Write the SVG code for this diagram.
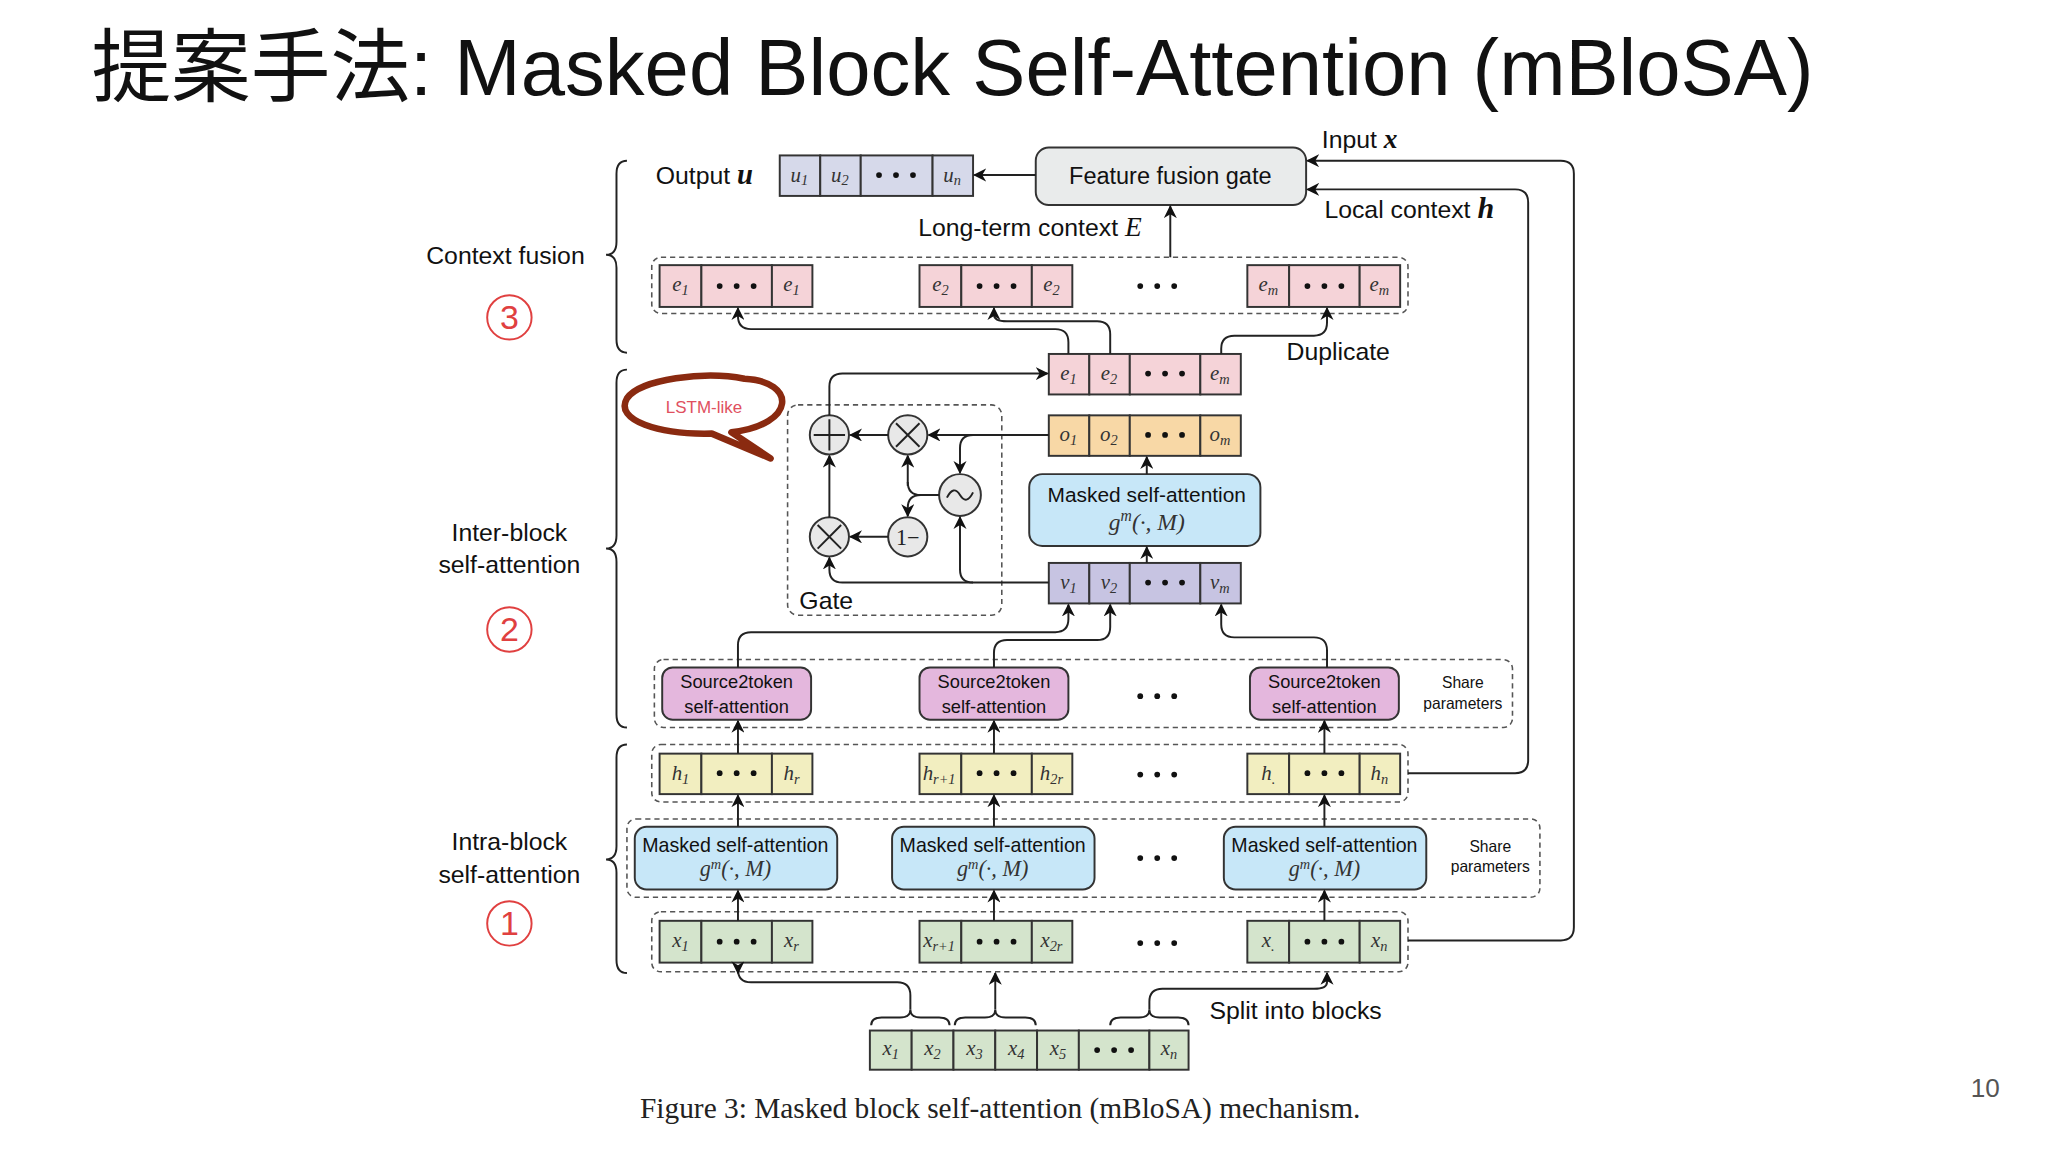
<svg xmlns="http://www.w3.org/2000/svg" width="2048" height="1152" viewBox="0 0 2048 1152">
<style>
.sans{font-family:"Liberation Sans",Arial,sans-serif;fill:#111}
.m{font-family:"Liberation Serif","Times New Roman",serif;font-style:italic;font-size:16px;fill:#333;text-anchor:middle}
.s{font-size:11px}
.cell{stroke:#333;stroke-width:1.5}
.e{fill:#f5d3d8}.u{fill:#d6d9ea}.o{fill:#f8d8a6}.v{fill:#c7c4e2}.h{fill:#f2eec0}.x{fill:#d4e4cc}
.dash{fill:none;stroke:#555;stroke-width:1.2;stroke-dasharray:4 3}
.ln{fill:none;stroke:#222;stroke-width:1.5}
.arr{fill:none;stroke:#222;stroke-width:1.5;marker-end:url(#ah)}
.msa{fill:#c7e7f8;stroke:#333;stroke-width:1.5}
.s2t{fill:#e4b7dd;stroke:#333;stroke-width:1.5}
.op{fill:#e8e8e8;stroke:#333;stroke-width:1.5}
.red{fill:none;stroke:#e04040;stroke-width:1.5}
.rt{font-family:"Liberation Sans",Arial,sans-serif;fill:#e04040;font-size:26px;text-anchor:middle}
</style>
<defs>
<marker id="ah" viewBox="0 0 10 10" refX="9" refY="5" markerWidth="10" markerHeight="10" markerUnits="userSpaceOnUse" orient="auto">
<path d="M0,0 L10,5 L0,10 L3,5 z" fill="#111"/>
</marker>
<g id="dots"><circle cx="-13" cy="0" r="2.2" fill="#111"/><circle cx="0" cy="0" r="2.2" fill="#111"/><circle cx="13" cy="0" r="2.2" fill="#111"/></g>
</defs>
<rect width="2048" height="1152" fill="#fff"/>
<g transform="scale(1.30612)">
<text class="sans" x="70" y="73" font-size="61" style="font-family:'Liberation Sans','Noto Sans CJK JP',sans-serif">提案手法: Masked Block Self-Attention (mBloSA)</text>
<text class="sans" x="1520" y="840" font-size="20" text-anchor="middle" fill="#555" style="fill:#555">10</text>
<text x="490" y="856" font-size="22.5" style="font-family:'Liberation Serif',serif;fill:#222">Figure 3: Masked block self-attention (mBloSA) mechanism.</text>

<g id="side-labels">
<path class="ln" d="M480,123 q-8,0 -8,10 v52 q0,10 -8,10 q8,0 8,10 v55 q0,10 8,10"/>
<path class="ln" d="M480,283 q-8,0 -8,10 v117 q0,10 -8,10 q8,0 8,10 v117 q0,10 8,10"/>
<path class="ln" d="M480,570 q-8,0 -8,10 v68 q0,10 -8,10 q8,0 8,10 v67 q0,10 8,10"/>
<text class="sans" x="387" y="202" font-size="19" text-anchor="middle">Context fusion</text>
<circle class="red" cx="390" cy="243" r="17"/><text class="rt" x="390" y="252">3</text>
<text class="sans" x="390" y="414" font-size="19" text-anchor="middle">Inter-block</text>
<text class="sans" x="390" y="439" font-size="19" text-anchor="middle">self-attention</text>
<circle class="red" cx="390" cy="482" r="17"/><text class="rt" x="390" y="491">2</text>
<text class="sans" x="390" y="651" font-size="19" text-anchor="middle">Intra-block</text>
<text class="sans" x="390" y="676" font-size="19" text-anchor="middle">self-attention</text>
<circle class="red" cx="390" cy="707" r="17"/><text class="rt" x="390" y="716">1</text>
</g>

<g id="output">
<text class="sans" x="502" y="141" font-size="19">Output <tspan style="font-family:'Liberation Serif',serif;font-style:italic;font-weight:bold" font-size="22">u</tspan></text>
<rect class="cell u" x="597" y="119" width="31" height="31"/><rect class="cell u" x="628" y="119" width="31" height="31"/><rect class="cell u" x="659" y="119" width="55" height="31"/><rect class="cell u" x="714" y="119" width="31" height="31"/>
<text class="m" x="612" y="139">u<tspan class="s" dy="3">1</tspan></text><text class="m" x="643" y="139">u<tspan class="s" dy="3">2</tspan></text><use href="#dots" x="686" y="134"/><text class="m" x="729" y="139">u<tspan class="s" dy="3">n</tspan></text>
</g>
<g id="fusion-gate">
<rect x="793" y="113" width="207" height="44" rx="10" fill="#e9ebeb" stroke="#333" stroke-width="1.5"/>
<text class="sans" x="896" y="141" font-size="18" text-anchor="middle">Feature fusion gate</text>
<text class="sans" x="1012" y="113" font-size="19">Input <tspan style="font-family:'Liberation Serif',serif;font-style:italic;font-weight:bold" font-size="21">x</tspan></text>
<text class="sans" x="1014" y="167" font-size="19">Local context <tspan style="font-family:'Liberation Serif',serif;font-style:italic;font-weight:bold" font-size="23">h</tspan></text>
<text class="sans" x="703" y="181" font-size="19">Long-term context <tspan style="font-family:'Liberation Serif',serif;font-style:italic" font-size="21">E</tspan></text>
</g>

<g id="e-groups">
<rect class="dash" x="499" y="197" width="579" height="43" rx="7"/>
<rect class="cell e" x="505" y="203" width="32" height="32"/><rect class="cell e" x="537" y="203" width="54" height="32"/><rect class="cell e" x="591" y="203" width="31" height="32"/>
<text class="m" x="521" y="223">e<tspan class="s" dy="3">1</tspan></text><use href="#dots" x="564" y="219"/><text class="m" x="606" y="223">e<tspan class="s" dy="3">1</tspan></text>
<rect class="cell e" x="704" y="203" width="32" height="32"/><rect class="cell e" x="736" y="203" width="54" height="32"/><rect class="cell e" x="790" y="203" width="31" height="32"/>
<text class="m" x="720" y="223">e<tspan class="s" dy="3">2</tspan></text><use href="#dots" x="763" y="219"/><text class="m" x="805" y="223">e<tspan class="s" dy="3">2</tspan></text>
<use href="#dots" x="886" y="219"/>
<rect class="cell e" x="955" y="203" width="32" height="32"/><rect class="cell e" x="987" y="203" width="54" height="32"/><rect class="cell e" x="1041" y="203" width="31" height="32"/>
<text class="m" x="971" y="223">e<tspan class="s" dy="3">m</tspan></text><use href="#dots" x="1014" y="219"/><text class="m" x="1056" y="223">e<tspan class="s" dy="3">m</tspan></text>
<text class="sans" x="985" y="276" font-size="19">Duplicate</text>
</g>

<g id="e-row">
<rect class="cell e" x="803" y="271" width="31" height="31"/><rect class="cell e" x="834" y="271" width="31" height="31"/><rect class="cell e" x="865" y="271" width="54" height="31"/><rect class="cell e" x="919" y="271" width="31" height="31"/>
<text class="m" x="818" y="291">e<tspan class="s" dy="3">1</tspan></text><text class="m" x="849" y="291">e<tspan class="s" dy="3">2</tspan></text><use href="#dots" x="892" y="286"/><text class="m" x="934" y="291">e<tspan class="s" dy="3">m</tspan></text>
</g>
<g id="o-row">
<rect class="cell o" x="803" y="318" width="31" height="31"/><rect class="cell o" x="834" y="318" width="31" height="31"/><rect class="cell o" x="865" y="318" width="54" height="31"/><rect class="cell o" x="919" y="318" width="31" height="31"/>
<text class="m" x="818" y="338">o<tspan class="s" dy="3">1</tspan></text><text class="m" x="849" y="338">o<tspan class="s" dy="3">2</tspan></text><use href="#dots" x="892" y="333"/><text class="m" x="934" y="338">o<tspan class="s" dy="3">m</tspan></text>
</g>
<g id="inter-msa">
<rect class="msa" x="788" y="363" width="177" height="55" rx="10"/>
<text class="sans" x="878" y="384" font-size="16" text-anchor="middle">Masked self-attention</text>
<text x="878" y="406" font-size="18" text-anchor="middle" style="font-family:'Liberation Serif',serif;font-style:italic;fill:#333">g<tspan font-size="12" dy="-7">m</tspan><tspan dy="7">(·, M)</tspan></text>
</g>
<g id="v-row">
<rect class="cell v" x="803" y="431" width="31" height="31"/><rect class="cell v" x="834" y="431" width="31" height="31"/><rect class="cell v" x="865" y="431" width="54" height="31"/><rect class="cell v" x="919" y="431" width="31" height="31"/>
<text class="m" x="818" y="451">v<tspan class="s" dy="3">1</tspan></text><text class="m" x="849" y="451">v<tspan class="s" dy="3">2</tspan></text><use href="#dots" x="892" y="446"/><text class="m" x="934" y="451">v<tspan class="s" dy="3">m</tspan></text>
</g>

<g id="gate">
<rect class="dash" x="603" y="310" width="164" height="161" rx="8"/>
<text class="sans" x="612" y="466" font-size="19">Gate</text>
<circle class="op" cx="635" cy="333" r="15"/><path class="ln" d="M635,321 v24 M623,333 h24"/>
<circle class="op" cx="695" cy="333" r="15"/><path class="ln" d="M686,324 l18,18 M704,324 l-18,18"/>
<circle class="op" cx="735" cy="379" r="16"/><path class="ln" d="M725,381 q5,-10 10,-2 t10,-2"/>
<circle class="op" cx="635" cy="411" r="15"/><path class="ln" d="M626,402 l18,18 M644,402 l-18,18"/>
<circle class="op" cx="695" cy="411" r="15"/><text x="695" y="417" font-size="17" text-anchor="middle" style="font-family:'Liberation Serif',serif;fill:#222">1−</text>
</g>
<g id="lstm-bubble">
<path d="M560,331 C610,325 610,292 570,290 C540,284 490,290 480,305 C470,322 505,333 545,332 L590,351 Z" fill="#fff" stroke="#8a2a10" stroke-width="5" stroke-linejoin="round"/>
<text x="539" y="316" font-size="13" text-anchor="middle" style="font-family:'Liberation Sans',sans-serif;fill:#e05060">LSTM-like</text>
</g>

<g id="s2t">
<rect class="dash" x="501" y="505" width="657" height="52" rx="7"/>
<rect class="s2t" x="507" y="511" width="114" height="40" rx="8"/><text class="sans" x="564" y="527" font-size="14" text-anchor="middle">Source2token</text><text class="sans" x="564" y="546" font-size="14" text-anchor="middle">self-attention</text>
<rect class="s2t" x="704" y="511" width="114" height="40" rx="8"/><text class="sans" x="761" y="527" font-size="14" text-anchor="middle">Source2token</text><text class="sans" x="761" y="546" font-size="14" text-anchor="middle">self-attention</text>
<use href="#dots" x="886" y="533"/>
<rect class="s2t" x="957" y="511" width="114" height="40" rx="8"/><text class="sans" x="1014" y="527" font-size="14" text-anchor="middle">Source2token</text><text class="sans" x="1014" y="546" font-size="14" text-anchor="middle">self-attention</text>
<text class="sans" x="1120" y="527" font-size="12" text-anchor="middle">Share</text><text class="sans" x="1120" y="543" font-size="12" text-anchor="middle">parameters</text>
</g>

<g id="h-groups">
<rect class="dash" x="499" y="570" width="579" height="44" rx="7"/>
<rect class="cell h" x="505" y="577" width="32" height="31"/><rect class="cell h" x="537" y="577" width="54" height="31"/><rect class="cell h" x="591" y="577" width="31" height="31"/>
<text class="m" x="521" y="597">h<tspan class="s" dy="3">1</tspan></text><use href="#dots" x="564" y="592"/><text class="m" x="606" y="597">h<tspan class="s" dy="3">r</tspan></text>
<rect class="cell h" x="704" y="577" width="32" height="31"/><rect class="cell h" x="736" y="577" width="54" height="31"/><rect class="cell h" x="790" y="577" width="31" height="31"/>
<text class="m" x="719" y="597">h<tspan class="s" dy="3">r+1</tspan></text><use href="#dots" x="763" y="592"/><text class="m" x="805" y="597">h<tspan class="s" dy="3">2r</tspan></text>
<use href="#dots" x="886" y="593"/>
<rect class="cell h" x="955" y="577" width="32" height="31"/><rect class="cell h" x="987" y="577" width="54" height="31"/><rect class="cell h" x="1041" y="577" width="31" height="31"/>
<text class="m" x="971" y="597">h<tspan class="s" dy="3">.</tspan></text><use href="#dots" x="1014" y="592"/><text class="m" x="1056" y="597">h<tspan class="s" dy="3">n</tspan></text>
</g>

<g id="intra-msa">
<rect class="dash" x="480" y="627" width="699" height="60" rx="7"/>
<rect class="msa" x="486" y="633" width="155" height="48" rx="9"/><text class="sans" x="563" y="652" font-size="15" text-anchor="middle">Masked self-attention</text><text x="563" y="671" font-size="17" text-anchor="middle" style="font-family:'Liberation Serif',serif;font-style:italic;fill:#333">g<tspan font-size="11" dy="-6">m</tspan><tspan dy="6">(·, M)</tspan></text>
<rect class="msa" x="683" y="633" width="155" height="48" rx="9"/><text class="sans" x="760" y="652" font-size="15" text-anchor="middle">Masked self-attention</text><text x="760" y="671" font-size="17" text-anchor="middle" style="font-family:'Liberation Serif',serif;font-style:italic;fill:#333">g<tspan font-size="11" dy="-6">m</tspan><tspan dy="6">(·, M)</tspan></text>
<use href="#dots" x="886" y="657"/>
<rect class="msa" x="937" y="633" width="155" height="48" rx="9"/><text class="sans" x="1014" y="652" font-size="15" text-anchor="middle">Masked self-attention</text><text x="1014" y="671" font-size="17" text-anchor="middle" style="font-family:'Liberation Serif',serif;font-style:italic;fill:#333">g<tspan font-size="11" dy="-6">m</tspan><tspan dy="6">(·, M)</tspan></text>
<text class="sans" x="1141" y="652" font-size="12" text-anchor="middle">Share</text><text class="sans" x="1141" y="668" font-size="12" text-anchor="middle">parameters</text>
</g>

<g id="x-groups">
<rect class="dash" x="499" y="698" width="579" height="46" rx="7"/>
<rect class="cell x" x="505" y="705" width="32" height="32"/><rect class="cell x" x="537" y="705" width="54" height="32"/><rect class="cell x" x="591" y="705" width="31" height="32"/>
<text class="m" x="521" y="725">x<tspan class="s" dy="3">1</tspan></text><use href="#dots" x="564" y="721"/><text class="m" x="606" y="725">x<tspan class="s" dy="3">r</tspan></text>
<rect class="cell x" x="704" y="705" width="32" height="32"/><rect class="cell x" x="736" y="705" width="54" height="32"/><rect class="cell x" x="790" y="705" width="31" height="32"/>
<text class="m" x="719" y="725">x<tspan class="s" dy="3">r+1</tspan></text><use href="#dots" x="763" y="721"/><text class="m" x="805" y="725">x<tspan class="s" dy="3">2r</tspan></text>
<use href="#dots" x="886" y="722"/>
<rect class="cell x" x="955" y="705" width="32" height="32"/><rect class="cell x" x="987" y="705" width="54" height="32"/><rect class="cell x" x="1041" y="705" width="31" height="32"/>
<text class="m" x="971" y="725">x<tspan class="s" dy="3">.</tspan></text><use href="#dots" x="1014" y="721"/><text class="m" x="1056" y="725">x<tspan class="s" dy="3">n</tspan></text>
</g>

<g id="input-row">
<rect class="cell x" x="666" y="789" width="32" height="30"/><rect class="cell x" x="698" y="789" width="32" height="30"/><rect class="cell x" x="730" y="789" width="32" height="30"/><rect class="cell x" x="762" y="789" width="32" height="30"/><rect class="cell x" x="794" y="789" width="32" height="30"/><rect class="cell x" x="826" y="789" width="54" height="30"/><rect class="cell x" x="880" y="789" width="30" height="30"/>
<text class="m" x="682" y="808">x<tspan class="s" dy="3">1</tspan></text><text class="m" x="714" y="808">x<tspan class="s" dy="3">2</tspan></text><text class="m" x="746" y="808">x<tspan class="s" dy="3">3</tspan></text><text class="m" x="778" y="808">x<tspan class="s" dy="3">4</tspan></text><text class="m" x="810" y="808">x<tspan class="s" dy="3">5</tspan></text><use href="#dots" x="853" y="804"/><text class="m" x="895" y="808">x<tspan class="s" dy="3">n</tspan></text>
<text class="sans" x="926" y="780" font-size="19">Split into blocks</text>
</g>

<g id="connectors">
<path class="arr" d="M793,134 H746"/>
<path class="arr" d="M896,197 V158"/>
<path class="arr" d="M1078,720 H1195 q10,0 10,-10 V133 q0,-10 -10,-10 H1001"/>
<path class="arr" d="M1078,592 H1160 q10,0 10,-10 V155 q0,-10 -10,-10 H1001"/>
<path class="arr" d="M818,271 V262 q0,-10 -10,-10 H575 q-10,0 -10,-10 V236"/>
<path class="arr" d="M850,271 V256 q0,-10 -10,-10 H771 q-10,0 -10,-5 V236"/>
<path class="arr" d="M935,271 V267 q0,-10 10,-10 H1006 q10,0 10,-10 V236"/>
<path class="arr" d="M878,431 V419"/>
<path class="arr" d="M878,363 V350"/>
<path class="arr" d="M803,333 H711"/>
<path class="arr" d="M745,333 q-10,0 -10,10 V362"/>
<path class="arr" d="M680,333 H651"/>
<path class="ln" d="M719,379 H705 q-10,0 -10,-10"/>
<path class="arr" d="M695,372 V349"/>
<path class="arr" d="M705,379 q-10,0 -10,10 V395"/>
<path class="arr" d="M680,411 H651"/>
<path class="arr" d="M635,396 V349"/>
<path class="arr" d="M635,318 V296 q0,-10 10,-10 H802"/>
<path class="arr" d="M803,446 H645 q-10,0 -10,-10 V427"/>
<path class="arr" d="M745,446 q-10,0 -10,-10 V396"/>
<path class="arr" d="M565,511 V494 q0,-10 10,-10 H808 q10,0 10,-10 V463"/>
<path class="arr" d="M761,511 V500 q0,-10 10,-10 H840 q10,0 10,-10 V463"/>
<path class="arr" d="M1016,511 V498 q0,-10 -10,-10 H945 q-10,0 -10,-10 V463"/>
<path class="arr" d="M565,577 V552"/><path class="arr" d="M761,577 V552"/><path class="arr" d="M1014,577 V552"/>
<path class="arr" d="M565,633 V609"/><path class="arr" d="M761,633 V609"/><path class="arr" d="M1014,633 V609"/>
<path class="arr" d="M565,705 V682"/><path class="arr" d="M761,705 V682"/><path class="arr" d="M1014,705 V682"/>
<path class="ln" d="M667,785 q0,-6 8,-6 h14 q8,0 8,-6 q0,6 8,6 h14 q8,0 8,6"/>
<path class="ln" d="M731,785 q0,-6 8,-6 h15 q8,0 8,-6 q0,6 8,6 h15 q8,0 8,6"/>
<path class="ln" d="M850,785 q0,-6 8,-6 h14 q8,0 8,-6 q0,6 8,6 h14 q8,0 8,6"/>
<path class="arr" d="M697,773 V762 q0,-10 -10,-10 H575 q-10,0 -10,-10 V745"/>
<path class="arr" d="M762,773 V745"/>
<path class="arr" d="M880,773 V767 q0,-10 10,-10 H1006 q10,0 10,-5 V745"/>
</g>
</g>
</svg>
